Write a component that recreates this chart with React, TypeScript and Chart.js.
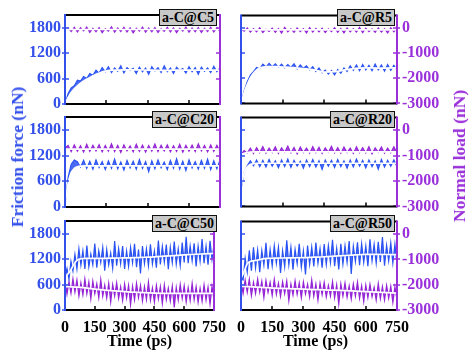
import React, { useEffect, useRef } from 'react';
import { Chart, registerables } from 'chart.js';

Chart.register(...registerables);

// ---------------- data ----------------
const TIME_15 = [0, 15, 30, 45, 60, 75, 90, 105, 120, 135, 150, 165, 180, 195, 210, 225, 240, 255, 270, 285, 300, 315, 330, 345, 360, 375, 390, 405, 420, 435, 450, 465, 480, 495, 510, 525, 540, 555, 570, 585, 600, 615, 630, 645, 660, 675, 690, 705, 720, 735, 750];
const TIME_10 = [0, 10, 20, 30, 40, 50, 60, 70, 80, 90, 100, 110, 120, 130, 140, 150, 160, 170, 180, 190, 200, 210, 220, 230, 240, 250, 260, 270, 280, 290, 300, 310, 320, 330, 340, 350, 360, 370, 380, 390, 400, 410, 420, 430, 440, 450, 460, 470, 480, 490, 500, 510, 520, 530, 540, 550, 560, 570, 580, 590, 600, 610, 620, 630, 640, 650, 660, 670, 680, 690, 700, 710, 720, 730, 740, 750];
const TIME_AVG = [0, 10, 20, 30, 45, 60, 80, 100, 130, 160, 200, 250, 300, 350, 400, 450, 500, 550, 600, 650, 700, 750];

const X_TICK_LABELS = [0, 150, 300, 450, 600, 750];
const X_MINOR_TICKS = [200, 400, 600];
const FRICTION_TICKS = [0, 600, 1200, 1800];
const LOAD_TICKS = [-3000, -2000, -1000, 0];

const PANEL_NAMES = ['a-C@C5', 'a-C@R5', 'a-C@C20', 'a-C@R20', 'a-C@C50', 'a-C@R50'];

// a-C@C5
const C5_FRICTION = [0, 250, 380, 430, 560, 540, 650, 600, 720, 680, 800, 730, 860, 760, 880, 740, 850, 770, 900, 730, 860, 790, 840, 720, 870, 760, 850, 700, 880, 780, 860, 740, 900, 760, 850, 720, 870, 790, 840, 730, 880, 760, 860, 700, 870, 770, 850, 740, 890, 760, 860];
const C5_LOAD = [-40, -10, -150, 20, -170, 0, -130, 30, -190, -20, -160, 10, -200, -30, -140, 40, -180, -10, -150, 20, -170, 0, -210, -20, -140, 30, -180, -10, -160, 10, -190, -30, -150, 20, -170, 0, -200, -20, -140, 30, -180, -10, -160, 10, -190, -20, -150, 20, -170, 0, -160];
const C5_FRICTION_AVG = [0, 100, 190, 270, 360, 430, 510, 570, 650, 720, 780, 800, 805, 805, 800, 795, 795, 800, 800, 800, 800, 800];
const C5_LOAD_AVG = [-50, -55, -60, -65, -70, -70, -70, -70, -70, -70, -70, -70, -70, -70, -70, -70, -70, -70, -70, -70, -70, -70];

// a-C@R5
const R5_FRICTION = [0, 300, 520, 680, 760, 860, 830, 940, 870, 960, 880, 950, 860, 940, 850, 930, 860, 950, 820, 920, 840, 900, 800, 880, 760, 850, 730, 800, 700, 790, 680, 810, 720, 850, 760, 900, 790, 920, 780, 930, 800, 910, 780, 940, 800, 920, 770, 930, 790, 910, 800];
const R5_LOAD = [-30, -120, 10, -160, -20, -150, 20, -180, -40, -130, 0, -170, -10, -200, 30, -150, -30, -170, 10, -140, -20, -190, 20, -160, -10, -150, 0, -180, -30, -140, 20, -170, -10, -190, 10, -150, -20, -160, 30, -180, 0, -140, -30, -170, 10, -160, -20, -190, 20, -150, -10];
const R5_FRICTION_AVG = [0, 170, 330, 450, 610, 720, 820, 860, 880, 880, 870, 855, 830, 800, 750, 760, 800, 840, 850, 845, 845, 850];
const R5_LOAD_AVG = [-50, -55, -60, -65, -70, -70, -70, -70, -70, -70, -70, -70, -70, -70, -70, -70, -70, -70, -70, -70, -70, -70];

// a-C@C20
const C20_FRICTION = [0, 700, 1000, 1100, 1060, 930, 1090, 900, 1070, 880, 1100, 920, 1060, 870, 1080, 900, 1120, 890, 1050, 860, 1090, 910, 1070, 880, 1110, 900, 1060, 820, 1080, 890, 1100, 910, 1050, 870, 1090, 900, 1130, 880, 1070, 850, 1100, 910, 1060, 880, 1090, 900, 1120, 870, 1080, 890, 1100];
const C20_LOAD = [-700, -600, -850, -580, -830, -620, -870, -560, -840, -600, -820, -570, -860, -610, -830, -540, -850, -600, -880, -580, -820, -620, -860, -560, -840, -590, -870, -610, -830, -550, -850, -600, -820, -580, -860, -620, -840, -560, -870, -600, -830, -590, -850, -540, -820, -610, -860, -580, -840, -600, -850];
const C20_FRICTION_AVG = [0, 420, 650, 800, 900, 940, 955, 960, 960, 960, 960, 960, 960, 960, 960, 960, 960, 960, 960, 960, 960, 960];
const C20_LOAD_AVG = [-750, -750, -750, -750, -750, -750, -750, -750, -750, -750, -750, -750, -750, -750, -750, -750, -750, -750, -750, -750, -750, -750];

// a-C@R20
const R20_FRICTION = [400, 800, 960, 1080, 960, 1100, 940, 1090, 930, 1110, 950, 1080, 910, 1100, 940, 1120, 920, 1090, 950, 1070, 900, 1100, 940, 1110, 930, 1080, 870, 1100, 950, 1090, 920, 1110, 940, 1080, 900, 1100, 930, 1120, 950, 1090, 910, 1100, 940, 1080, 880, 1110, 930, 1090, 950, 1100, 940];
const R20_LOAD = [-950, -800, -900, -700, -920, -680, -890, -640, -910, -700, -880, -650, -920, -690, -870, -620, -900, -680, -930, -660, -880, -700, -910, -640, -890, -670, -920, -690, -870, -630, -900, -680, -910, -660, -880, -700, -920, -650, -890, -680, -900, -640, -930, -690, -870, -660, -910, -700, -890, -650, -900];
const R20_FRICTION_AVG = [450, 700, 850, 930, 990, 1010, 1020, 1020, 1020, 1020, 1020, 1020, 1020, 1020, 1020, 1020, 1020, 1020, 1020, 1020, 1020, 1020];
const R20_LOAD_AVG = [-950, -920, -900, -880, -860, -850, -850, -850, -850, -850, -850, -850, -850, -850, -850, -850, -850, -850, -850, -850, -850, -850];

// a-C@C50
const C50_FRICTION = [780, 980, 730, 1150, 920, 1310, 970, 1445, 1060, 1395, 970, 1520, 1020, 1320, 1070, 1570, 1000, 1400, 1120, 1480, 925, 1425, 1065, 1345, 985, 1625, 1045, 1450, 1090, 1510, 970, 1390, 1030, 1475, 1115, 1560, 1010, 1425, 865, 1510, 1095, 1445, 1045, 1550, 1085, 1395, 1000, 1640, 1075, 1500, 1130, 1545, 960, 1480, 1120, 1615, 1080, 1440, 1045, 1590, 1120, 1725, 1105, 1515, 1160, 1575, 1025, 1510, 1150, 1675, 1105, 1507, 1070, 1633, 1195, 1535];
const C50_LOAD = [-1830, -2380, -1885, -2340, -1770, -2300, -1820, -2455, -1930, -2400, -1780, -2360, -1900, -2560, -1870, -2360, -1970, -2520, -1805, -2460, -2020, -2525, -1950, -2690, -2005, -2450, -1935, -2540, -2090, -2625, -1980, -2525, -2030, -2790, -2075, -2600, -1955, -2510, -2030, -2645, -2080, -2585, -1905, -2610, -2130, -2685, -2035, -2560, -2080, -2745, -2015, -2595, -2145, -2650, -2070, -2900, -2110, -2610, -2000, -2550, -2050, -2680, -2130, -2630, -1950, -2590, -2090, -2700, -2150, -2650, -2020, -2610, -2100, -2770, -2070, -2600];
const C50_FRICTION_AVG = [780, 830, 880, 950, 1080, 1170, 1210, 1220, 1220, 1220, 1220, 1225, 1230, 1235, 1245, 1255, 1270, 1285, 1300, 1315, 1325, 1335];
const C50_LOAD_AVG = [-2080, -2080, -2085, -2090, -2095, -2100, -2110, -2130, -2160, -2190, -2220, -2250, -2280, -2300, -2320, -2335, -2345, -2350, -2350, -2350, -2350, -2350];

// a-C@R50
const R50_FRICTION = [740, 710, 1230, 900, 1415, 935, 1490, 1000, 1425, 900, 1410, 1065, 1595, 970, 1440, 1045, 1525, 1110, 1490, 880, 1410, 1030, 1655, 1075, 1490, 960, 1440, 1100, 1575, 1015, 1405, 845, 1530, 1080, 1495, 1035, 1605, 1110, 1460, 1005, 1565, 1080, 1530, 1125, 1665, 1040, 1465, 965, 1570, 1090, 1525, 1130, 1640, 855, 1515, 1150, 1610, 1065, 1575, 1130, 1520, 1040, 1680, 1170, 1560, 1110, 1620, 1140, 1735, 1055, 1535, 1165, 1595, 1115, 1565, 1085];
const R50_LOAD = [-1860, -2345, -1810, -2295, -1780, -2430, -1905, -2350, -1775, -2300, -1865, -2510, -1835, -2300, -1905, -2430, -1785, -2380, -1940, -2465, -1885, -2350, -1850, -2635, -1975, -2410, -1845, -2385, -1930, -2520, -1895, -2370, -1980, -2485, -1805, -2450, -1975, -2615, -1940, -2400, -1905, -2485, -2030, -2450, -1875, -2515, -2000, -2770, -1965, -2445, -1930, -2495, -2040, -2570, -1965, -2450, -1895, -2540, -2040, -2665, -2020, -2515, -1980, -2480, -2105, -2610, -1955, -2550, -2080, -2605, -2030, -2535, -2060, -2700, -2085, -2590];
const R50_FRICTION_AVG = [760, 860, 980, 1100, 1150, 1170, 1185, 1210, 1225, 1230, 1235, 1240, 1245, 1255, 1265, 1280, 1295, 1310, 1320, 1320, 1318, 1315];
const R50_LOAD_AVG = [-2060, -2065, -2070, -2075, -2080, -2085, -2095, -2105, -2120, -2135, -2145, -2160, -2175, -2190, -2205, -2215, -2230, -2250, -2270, -2290, -2310, -2330];

// axis ranges
const FRICTION_MIN = 0;
const FRICTION_MAX = 2100;
const LOAD_MIN = -3000;
const LOAD_MAX = 500;
const TIME_MIN = 0;
const TIME_MAX = 750;

// ---------------- styles ----------------
const FONT = '"Liberation Serif", "Times New Roman", serif';
const BLUE_LINE = '#2a52f2';
const BLUE_FILL = 'rgba(42, 82, 242, 0.85)';
const PURPLE_LINE = '#9424d6';
const PURPLE_FILL = 'rgba(148, 36, 214, 0.85)';
const BLUE_AXIS = '#3350ea';
const PURPLE_AXIS = '#9a30da';

const COLS = [
  { left: 65, right: 220, leftW: 65, rightW: 14 },
  { left: 241, right: 397, leftW: 14, rightW: 77 },
];
const ROWS = [
  { top: 15, bottom: 104 },
  { top: 117, bottom: 207 },
  { top: 221, bottom: 310 },
];
const PAD = 14;

type PanelSpec = {
  name: string;
  col: number;
  row: number;
  time: number[];
  friction: number[];
  load: number[];
  frictionAvg: number[];
  loadAvg: number[];
};

const PANELS: PanelSpec[] = [
  { name: PANEL_NAMES[0], col: 0, row: 0, time: TIME_15, friction: C5_FRICTION, load: C5_LOAD, frictionAvg: C5_FRICTION_AVG, loadAvg: C5_LOAD_AVG },
  { name: PANEL_NAMES[1], col: 1, row: 0, time: TIME_15, friction: R5_FRICTION, load: R5_LOAD, frictionAvg: R5_FRICTION_AVG, loadAvg: R5_LOAD_AVG },
  { name: PANEL_NAMES[2], col: 0, row: 1, time: TIME_15, friction: C20_FRICTION, load: C20_LOAD, frictionAvg: C20_FRICTION_AVG, loadAvg: C20_LOAD_AVG },
  { name: PANEL_NAMES[3], col: 1, row: 1, time: TIME_15, friction: R20_FRICTION, load: R20_LOAD, frictionAvg: R20_FRICTION_AVG, loadAvg: R20_LOAD_AVG },
  { name: PANEL_NAMES[4], col: 0, row: 2, time: TIME_10, friction: C50_FRICTION, load: C50_LOAD, frictionAvg: C50_FRICTION_AVG, loadAvg: C50_LOAD_AVG },
  { name: PANEL_NAMES[5], col: 1, row: 2, time: TIME_10, friction: R50_FRICTION, load: R50_LOAD, frictionAvg: R50_FRICTION_AVG, loadAvg: R50_LOAD_AVG },
];

const pts = (xs: number[], ys: number[]) => ys.map((y, i) => ({ x: xs[i], y }));
const plain = (v: any) => String(v);

function geometry(col: number, row: number) {
  const c = COLS[col];
  const r = ROWS[row];
  const bottomH = row === 2 ? 40 : PAD;
  return {
    left: c.left - c.leftW,
    top: r.top - PAD,
    width: c.leftW + (c.right - c.left) + c.rightW,
    height: PAD + (r.bottom - r.top) + bottomH,
    bottomH,
    leftW: c.leftW,
    rightW: c.rightW,
  };
}

const framePlugin = {
  id: 'frame',
  afterDatasetsDraw(chart: any, _args: any, opts: any) {
    const { ctx, chartArea: a, scales } = chart;
    const line = (x1: number, y1: number, x2: number, y2: number) => {
      ctx.beginPath();
      ctx.moveTo(x1, y1);
      ctx.lineTo(x2, y2);
      ctx.stroke();
    };
    ctx.save();
    ctx.lineWidth = 1.5;
    ctx.strokeStyle = '#000';
    for (const v of opts.xMarks as number[]) {
      const px = Math.round(scales.x.getPixelForValue(v));
      line(px, a.bottom, px, a.bottom - 4);
    }
    ctx.strokeStyle = BLUE_AXIS;
    for (const v of FRICTION_TICKS) {
      const py = Math.round(scales.yL.getPixelForValue(v));
      line(a.left, py, a.left + 4, py);
      if (opts.col === 0) line(a.left - 3, py, a.left, py);
    }
    ctx.strokeStyle = PURPLE_AXIS;
    for (const v of LOAD_TICKS) {
      const py = Math.round(scales.yR.getPixelForValue(v));
      line(a.right - 4, py, a.right, py);
      if (opts.col === 1) line(a.right, py, a.right + 3, py);
    }
    ctx.lineWidth = 2;
    ctx.strokeStyle = '#000';
    line(a.left, a.top, a.right, a.top);
    line(a.left, a.bottom, a.right, a.bottom);
    ctx.strokeStyle = BLUE_AXIS;
    line(a.left, a.top - 1, a.left, a.bottom + 1);
    ctx.strokeStyle = PURPLE_AXIS;
    line(a.right, a.top - 1, a.right, a.bottom + 1);
    ctx.restore();
  },
};

function Panel({ spec }: { spec: PanelSpec }) {
  const ref = useRef<HTMLCanvasElement>(null);
  const g = geometry(spec.col, spec.row);

  useEffect(() => {
    const tickFont = { family: FONT, size: 16, weight: 'bold' as const };
    const noiseW = spec.row === 2 ? 1.2 : 1.1;
    const chart = new Chart(ref.current!, {
      type: 'line',
      data: {
        datasets: [
          { data: pts(TIME_AVG, spec.frictionAvg), yAxisID: 'yL', borderColor: '#ffffff', borderWidth: 1.7, pointRadius: 0, cubicInterpolationMode: 'monotone', fill: false },
          { data: pts(TIME_AVG, spec.loadAvg), yAxisID: 'yR', borderColor: '#ffffff', borderWidth: 1.7, pointRadius: 0, cubicInterpolationMode: 'monotone', fill: false },
          { data: pts(spec.time, spec.friction), yAxisID: 'yL', borderColor: BLUE_LINE, backgroundColor: BLUE_FILL, borderWidth: noiseW, pointRadius: 0, fill: { target: 0 } },
          { data: pts(spec.time, spec.load), yAxisID: 'yR', borderColor: PURPLE_LINE, backgroundColor: PURPLE_FILL, borderWidth: noiseW, pointRadius: 0, fill: { target: 1 } },
        ],
      },
      options: {
        animation: false,
        responsive: false,
        devicePixelRatio: 1,
        events: [],
        layout: { padding: { top: PAD, left: 0, right: 0, bottom: 0 } },
        plugins: {
          legend: { display: false },
          tooltip: { enabled: false },
          filler: { propagate: false },
          // @ts-ignore
          frame: { xMarks: spec.row === 2 ? X_TICK_LABELS : X_MINOR_TICKS, col: spec.col },
        },
        scales: {
          x: {
            type: 'linear',
            position: 'bottom',
            min: TIME_MIN,
            max: TIME_MAX,
            grid: { display: false, drawTicks: false },
            border: { display: false },
            ticks: { display: spec.row === 2, color: '#000', font: tickFont, padding: 8, autoSkip: false, maxRotation: 0, callback: plain },
            afterBuildTicks: (s: any) => { s.ticks = X_TICK_LABELS.map((v) => ({ value: v })); },
            afterFit: (s: any) => { s.height = g.bottomH; },
          },
          yL: {
            type: 'linear',
            position: 'left',
            min: FRICTION_MIN,
            max: FRICTION_MAX,
            grid: { display: false, drawTicks: false },
            border: { display: false },
            ticks: { display: spec.col === 0, color: BLUE_AXIS, font: tickFont, padding: 4, autoSkip: false, callback: plain },
            afterBuildTicks: (s: any) => { s.ticks = FRICTION_TICKS.map((v) => ({ value: v })); },
            afterFit: (s: any) => { s.width = g.leftW; },
          },
          yR: {
            type: 'linear',
            position: 'right',
            min: LOAD_MIN,
            max: LOAD_MAX,
            grid: { display: false, drawTicks: false },
            border: { display: false },
            ticks: { display: spec.col === 1, color: PURPLE_AXIS, font: tickFont, padding: 5, autoSkip: false, callback: plain },
            afterBuildTicks: (s: any) => { s.ticks = LOAD_TICKS.map((v) => ({ value: v })); },
            afterFit: (s: any) => { s.width = g.rightW; },
          },
        },
      } as any,
      plugins: [framePlugin as any],
    });
    return () => chart.destroy();
  }, []);

  return (
    <canvas
      ref={ref}
      width={g.width}
      height={g.height}
      style={{ position: 'absolute', left: g.left, top: g.top, width: g.width, height: g.height }}
    />
  );
}

const BOX_RIGHT = [217, 395];

export default function App() {
  return (
    <div style={{ position: 'absolute', left: 0, top: 0, width: 474, height: 356, background: '#fff', overflow: 'hidden' }}>
      {PANELS.map((p) => (
        <Panel key={p.name} spec={p} />
      ))}
      {PANELS.map((p) => (
        <div
          key={'lbl' + p.name}
          style={{
            position: 'absolute',
            right: 474 - BOX_RIGHT[p.col],
            top: ROWS[p.row].top - 6,
            height: 15,
            lineHeight: '15px',
            padding: '0 2px',
            background: '#c8c8c8',
            border: '1px solid #111',
            font: `bold 14px ${FONT}`,
            color: '#000',
            whiteSpace: 'nowrap',
          }}
        >
          {p.name}
        </div>
      ))}
      <div
        style={{
          position: 'absolute', left: 16.5, top: 157, transform: 'translate(-50%, -50%) rotate(-90deg)',
          font: `bold 17.5px ${FONT}`, color: BLUE_AXIS, whiteSpace: 'nowrap', lineHeight: '18px',
        }}
      >
        Friction force (nN)
      </div>
      <div
        style={{
          position: 'absolute', left: 458.5, top: 156, transform: 'translate(-50%, -50%) rotate(-90deg)',
          font: `bold 17.5px ${FONT}`, color: PURPLE_AXIS, whiteSpace: 'nowrap', lineHeight: '18px',
        }}
      >
        Normal load (nN)
      </div>
      <div style={{ position: 'absolute', left: 139.5, top: 333, transform: 'translateX(-50%)', font: `bold 16px ${FONT}`, lineHeight: '16px', color: '#000', whiteSpace: 'nowrap' }}>
        Time (ps)
      </div>
      <div style={{ position: 'absolute', left: 315.5, top: 333, transform: 'translateX(-50%)', font: `bold 16px ${FONT}`, lineHeight: '16px', color: '#000', whiteSpace: 'nowrap' }}>
        Time (ps)
      </div>
    </div>
  );
}
